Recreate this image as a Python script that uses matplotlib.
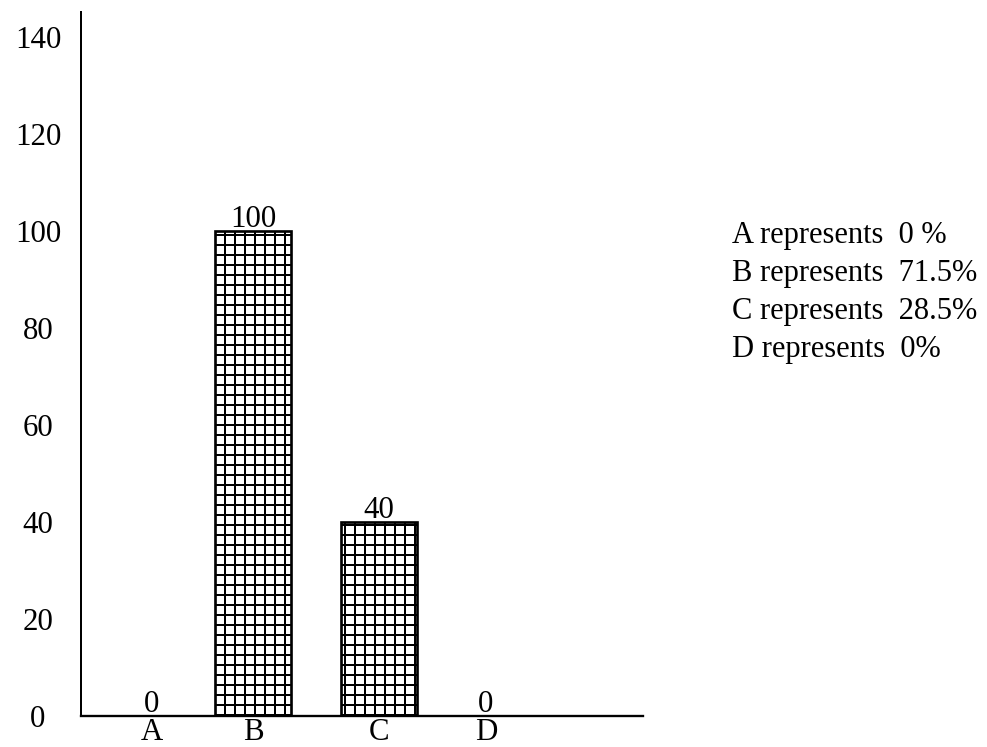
import matplotlib.pyplot as plt

# data
categories = ['A', 'B', 'C', 'D']
values = [0, 100, 40, 0]
value_labels = ['0', '100', '40', '0']
share_text = ['A represents  0 %', 'B represents  71.5%',
              'C represents  28.5%', 'D represents  0%']
yticks = [0, 20, 40, 60, 80, 100, 120, 140]

# category positions along x (spacing in the original is a bit uneven)
xpos = [0, 0.91, 2.04, 3.0]

plt.rcParams['font.family'] = ['Liberation Serif', 'DejaVu Serif']
plt.rcParams['hatch.linewidth'] = 1.2

W, H, DPI = 988, 747, 120
fs = 18.5

fig = plt.figure(figsize=(W / DPI, H / DPI), dpi=DPI)
ax = fig.add_axes([81 / W, 31 / H, (643 - 81) / W, (716 - 12) / H])

ax.bar(xpos, values, width=0.683, color='white', edgecolor='black',
       linewidth=1.6, hatch='++', zorder=2)

# value labels on top of bars
for x, v, s in zip(xpos, values, value_labels):
    ax.annotate(s, (x, v), xytext=(0, 2.5), textcoords='offset points',
                ha='center', va='baseline', fontsize=fs)

ax.set_xlim(-0.638, 4.41)
ax.set_ylim(0, 145.2)
ax.set_xticks(xpos, categories)
ax.set_yticks(yticks)
ax.tick_params(axis='both', length=0, labelsize=fs)
ax.tick_params(axis='y', pad=25.8)
ax.tick_params(axis='x', pad=1)
for lab in ax.get_yticklabels():
    lab.set_horizontalalignment('center')

ax.spines['top'].set_visible(False)
ax.spines['right'].set_visible(False)
ax.spines['left'].set_linewidth(1.2)
ax.spines['bottom'].set_linewidth(1.4)

# percentage notes on the right
for i, t in enumerate(share_text):
    fig.text(732 / W, 1 - (243 + 38 * i) / H, t, fontsize=18.3, va='baseline')

fig.savefig('out.png', dpi=DPI)
